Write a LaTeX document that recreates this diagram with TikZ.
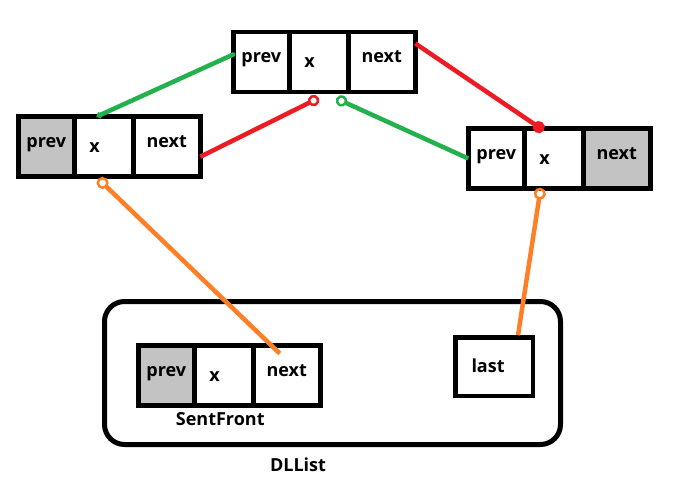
\documentclass[tikz,border=0pt]{standalone}
\usepackage{fontspec}
\setmainfont{Open Sans}
\usepackage{tikz}
\usetikzlibrary{arrows.meta}
\usetikzlibrary{positioning}
\definecolor{pgreen}{RGB}{34,177,76}
\definecolor{pred}{RGB}{237,28,36}
\definecolor{porange}{RGB}{255,127,39}
\definecolor{pgray}{RGB}{195,195,195}
\tikzstyle{every node}+=[inner sep=0pt]
\tikzstyle{cell} = [rectangle, draw, line width=4.5pt, outer sep=0pt, minimum height=60pt, font=\fontsize{18}{20}\selectfont\bfseries, text height=12pt, text depth=10pt]
\tikzstyle{prevcell} = [cell, minimum width=56pt]
\tikzstyle{xcell} = [cell, minimum width=59pt, text width=29pt, align=left, text depth=0pt]
\tikzstyle{nextcell} = [cell, minimum width=67pt]
\tikzstyle{lastcell} = [cell, minimum width=77.5pt, minimum height=58.5pt, text width=45pt, align=left, text depth=1pt]
\tikzstyle{shaded} = [fill=pgray]
\tikzstyle{container} = [rectangle, draw, line width=5pt, rounded corners=20pt, minimum width=456pt, minimum height=143pt]
\tikzstyle{line} = [draw, line width=4.5pt]
\tikzstyle{gline} = [line, pgreen]
\tikzstyle{rline} = [line, pred]
\tikzstyle{oline} = [line, porange]

\begin{document}
\begin{tikzpicture}[x=1pt, y=-1pt, every label/.style={font=\fontsize{18}{20}\selectfont\bfseries}]
            \useasboundingbox (0,0) rectangle (675,489);
            % Place nodes
            \node [container, label={[xshift=-34.5pt, label distance=11pt]below:DLList}] (dll) at (332.5,373) {};
            \node [prevcell] (tp) at (261.25,62) {prev};
            \node [xcell, right=0pt of tp] (tx) {x};
            \node [nextcell, right=0pt of tx] (tn) {next};
            \node [prevcell, shaded] (lp) at (46.25,146.5) {prev};
            \node [xcell, right=0pt of lp] (lx) {x};
            \node [nextcell, right=0pt of lx] (ln) {next};
            \node [prevcell] (rp) at (496.25,158.5) {prev};
            \node [xcell, right=0pt of rp] (rx) {x};
            \node [nextcell, shaded, right=0pt of rx] (rn) {next};
            \node [prevcell, shaded] (sp) at (166.25,375.5) {prev};
            \node [xcell, right=0pt of sp, label={[xshift=-3.5pt, label distance=7pt]below:SentFront}] (sx) {x};
            \node [nextcell, right=0pt of sx] (sn) {next};
            \node [lastcell] (last) at (494,366.5) {last};
            % Draw edges
            \path [gline, line cap=round, -{Circle[length=6pt]}] (tp.165) -- (lx.103);
            \path [rline, -{Circle[open, length=11.5pt, line width=2.5pt]}] (ln.-17) -- ([yshift=-6pt]tx.south);
            \path [gline, {Circle[open, length=11.5pt, line width=2.5pt]}-] ([xshift=17.5pt, yshift=-6.5pt]tx.south) -- (rp.west);
            \path [rline, -{Circle[length=12pt]}] (tn.29) -- ([xshift=-10pt, yshift=-2pt]rx.north);
            \path [oline, {Circle[open, length=12pt, line width=2.5pt]}-] ([xshift=-5.5pt, yshift=-2.3pt]lx.south) -- ([xshift=-7pt, yshift=-8pt]sn.north);
            \path [oline, {Circle[open, length=12pt, line width=2.5pt]}-] ([xshift=-13pt, yshift=0.7pt]rx.south) -- ([xshift=24pt, yshift=2pt]last.north);
\end{tikzpicture}
\end{document}
